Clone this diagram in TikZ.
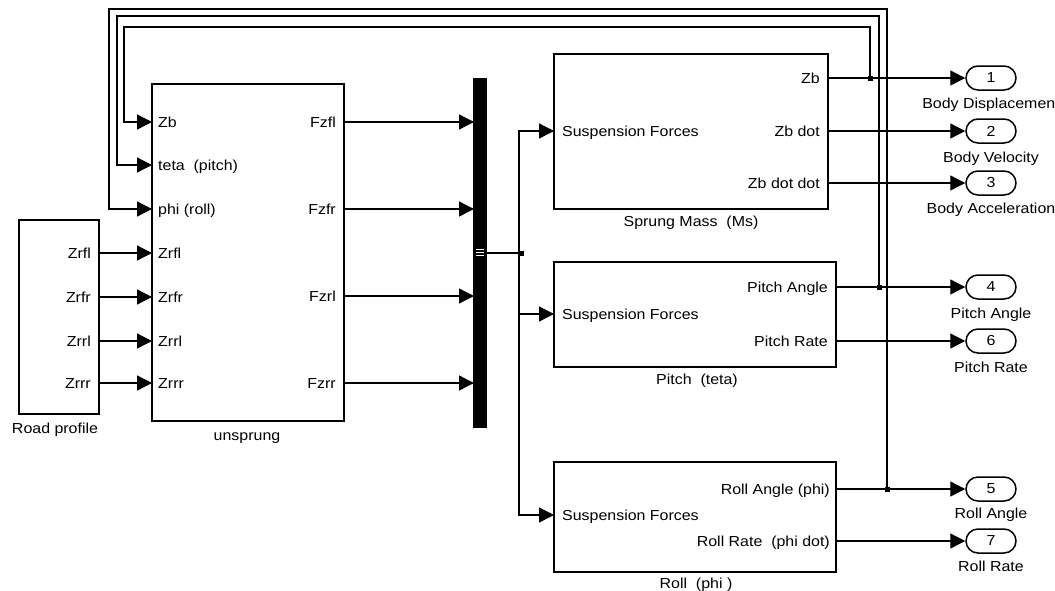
\documentclass[tikz,border=0pt]{standalone}
\usepackage{fontspec}
\setmainfont{Liberation Sans}[FakeStretch=1.1]
\usetikzlibrary{arrows.meta,shapes.misc}
\newcommand{\lblfont}{\fontsize{14.5}{16}\selectfont}
\begin{document}
\begin{tikzpicture}[x=1pt,y=-1pt,
  blk/.style={draw,line width=1.6pt,inner sep=0pt,outer sep=0pt,anchor=north west},
  lbl/.style={inner sep=0pt,text height=10.5pt,text depth=0pt,font=\lblfont},
  wire/.style={line width=1.3pt},
  arr/.style={wire,-{Triangle[length=15pt,width=15pt]}},
  jdot/.style={fill,rectangle,minimum size=5pt,inner sep=0pt},
  outport/.style={draw,rounded rectangle,line width=1.5pt,minimum width=50pt,minimum height=24pt,inner sep=0pt,font=\lblfont},
]
\useasboundingbox (0,0) rectangle (1055,590);
\clip (0,0) rectangle (1055,590);

% blocks
\node[blk,minimum width=80pt,minimum height=194pt] (rp) at (19,220) {};
\node[blk,minimum width=192pt,minimum height=337pt] (us) at (152,84) {};
\node[blk,fill,minimum width=12pt,minimum height=348pt] (mux) at (474,79) {};
\node[blk,minimum width=274pt,minimum height=155pt] (sm) at (554,54) {};
\node[blk,minimum width=282pt,minimum height=105pt] (pt) at (554,262) {};
\node[blk,minimum width=282pt,minimum height=110pt] (rl) at (554,462) {};

% mux bus marker
\draw[white,line width=0.7pt] (476,249) -- (484,249) (476,252) -- (484,252) (476,255) -- (484,255);

% block names
\node[lbl] (rpn) at (55,428) {Road profile};
\node[lbl] (usn) at (247,435) {unsprung};
\node[lbl] (smn) at (691,221) {Sprung Mass\ \ (Ms)};
\node[lbl] (ptn) at (697,379) {Pitch\ \ (teta)};
\node[lbl] (rln) at (696,583) {Roll\ \ (phi )};

% road profile ports
\node[lbl,anchor=east] (rp1) at (91,253) {Zrfl};
\node[lbl,anchor=east] (rp2) at (91,297) {Zrfr};
\node[lbl,anchor=east] (rp3) at (91,341) {Zrrl};
\node[lbl,anchor=east] (rp4) at (91,383) {Zrrr};

% unsprung ports
\node[lbl,anchor=west] (u1) at (158,122) {Zb};
\node[lbl,anchor=west] (u2) at (158,165) {teta\ \ (pitch)};
\node[lbl,anchor=west] (u3) at (158,209) {phi (roll)};
\node[lbl,anchor=west] (u4) at (158,253) {Zrfl};
\node[lbl,anchor=west] (u5) at (158,297) {Zrfr};
\node[lbl,anchor=west] (u6) at (158,341) {Zrrl};
\node[lbl,anchor=west] (u7) at (158,383) {Zrrr};
\node[lbl,anchor=east] (f1) at (336,122) {Fzfl};
\node[lbl,anchor=east] (f2) at (336,209) {Fzfr};
\node[lbl,anchor=east] (f3) at (336,296) {Fzrl};
\node[lbl,anchor=east] (f4) at (336,383) {Fzrr};

% sprung mass ports
\node[lbl,anchor=west] (sin) at (562,131) {Suspension Forces};
\node[lbl,anchor=east] (s1) at (820,78) {Zb};
\node[lbl,anchor=east] (s2) at (820,131) {Zb dot};
\node[lbl,anchor=east] (s3) at (820,183) {Zb dot dot};

% pitch ports
\node[lbl,anchor=west] (pin) at (562,314) {Suspension Forces};
\node[lbl,anchor=east] (p1) at (828,287) {Pitch Angle};
\node[lbl,anchor=east] (p2) at (828,341) {Pitch Rate};

% roll ports
\node[lbl,anchor=west] (rin) at (562,515) {Suspension Forces};
\node[lbl,anchor=east] (r1) at (830,489) {Roll Angle (phi)};
\node[lbl,anchor=east] (r2) at (830,541) {Roll Rate\ \ (phi dot)};

% outports
\node[outport] (o1) at (991,78) {1};
\node[outport] (o2) at (991,131) {2};
\node[outport] (o3) at (991,183) {3};
\node[outport] (o4) at (991,287) {4};
\node[outport] (o6) at (991,341) {6};
\node[outport] (o5) at (991,489) {5};
\node[outport] (o7) at (991,541) {7};
\node[lbl] (o1n) at (991,103) {Body Displacement};
\node[lbl] (o2n) at (991,157) {Body Velocity};
\node[lbl] (o3n) at (991,208) {Body Acceleration};
\node[lbl] (o4n) at (991,313) {Pitch Angle};
\node[lbl] (o6n) at (991,367) {Pitch Rate};
\node[lbl] (o5n) at (991,513) {Roll Angle};
\node[lbl] (o7n) at (991,566) {Roll Rate};

% road -> unsprung
\foreach \a/\b in {rp1/u4,rp2/u5,rp3/u6,rp4/u7}
  \draw[arr] (\a -| rp.east) -- (\b -| us.west);
% unsprung -> mux
\foreach \a in {f1,f2,f3,f4}
  \draw[arr] (\a -| us.east) -- (\a -| mux.west);

% bus
\coordinate (bj) at (519,253);
\draw[wire] (bj -| mux.east) -- (bj);
\draw[arr] (bj) |- (sin -| sm.west);
\draw[arr] (bj) |- (pin -| pt.west);
\draw[arr] (bj) |- (rin -| rl.west);
\node[jdot] at ([xshift=2pt]bj) {};

% outputs
\draw[arr] (s1 -| sm.east) -- (o1.west);
\draw[arr] (s2 -| sm.east) -- (o2.west);
\draw[arr] (s3 -| sm.east) -- (o3.west);
\draw[arr] (p1 -| pt.east) -- (o4.west);
\draw[arr] (p2 -| pt.east) -- (o6.west);
\draw[arr] (r1 -| rl.east) -- (o5.west);
\draw[arr] (r2 -| rl.east) -- (o7.west);

% feedback loops
\coordinate (j1) at (870,78);
\coordinate (j2) at (879,287);
\coordinate (j3) at (887,489);
\draw[arr] (j1) |- (124,27) |- (u1 -| us.west);
\draw[arr] (j2) |- (117,16) |- (u2 -| us.west);
\draw[arr] (j3) |- (109,9) |- (u3 -| us.west);
\node[jdot] at (j1) {};
\node[jdot] at (j2) {};
\node[jdot] at (j3) {};
\end{tikzpicture}
\end{document}
